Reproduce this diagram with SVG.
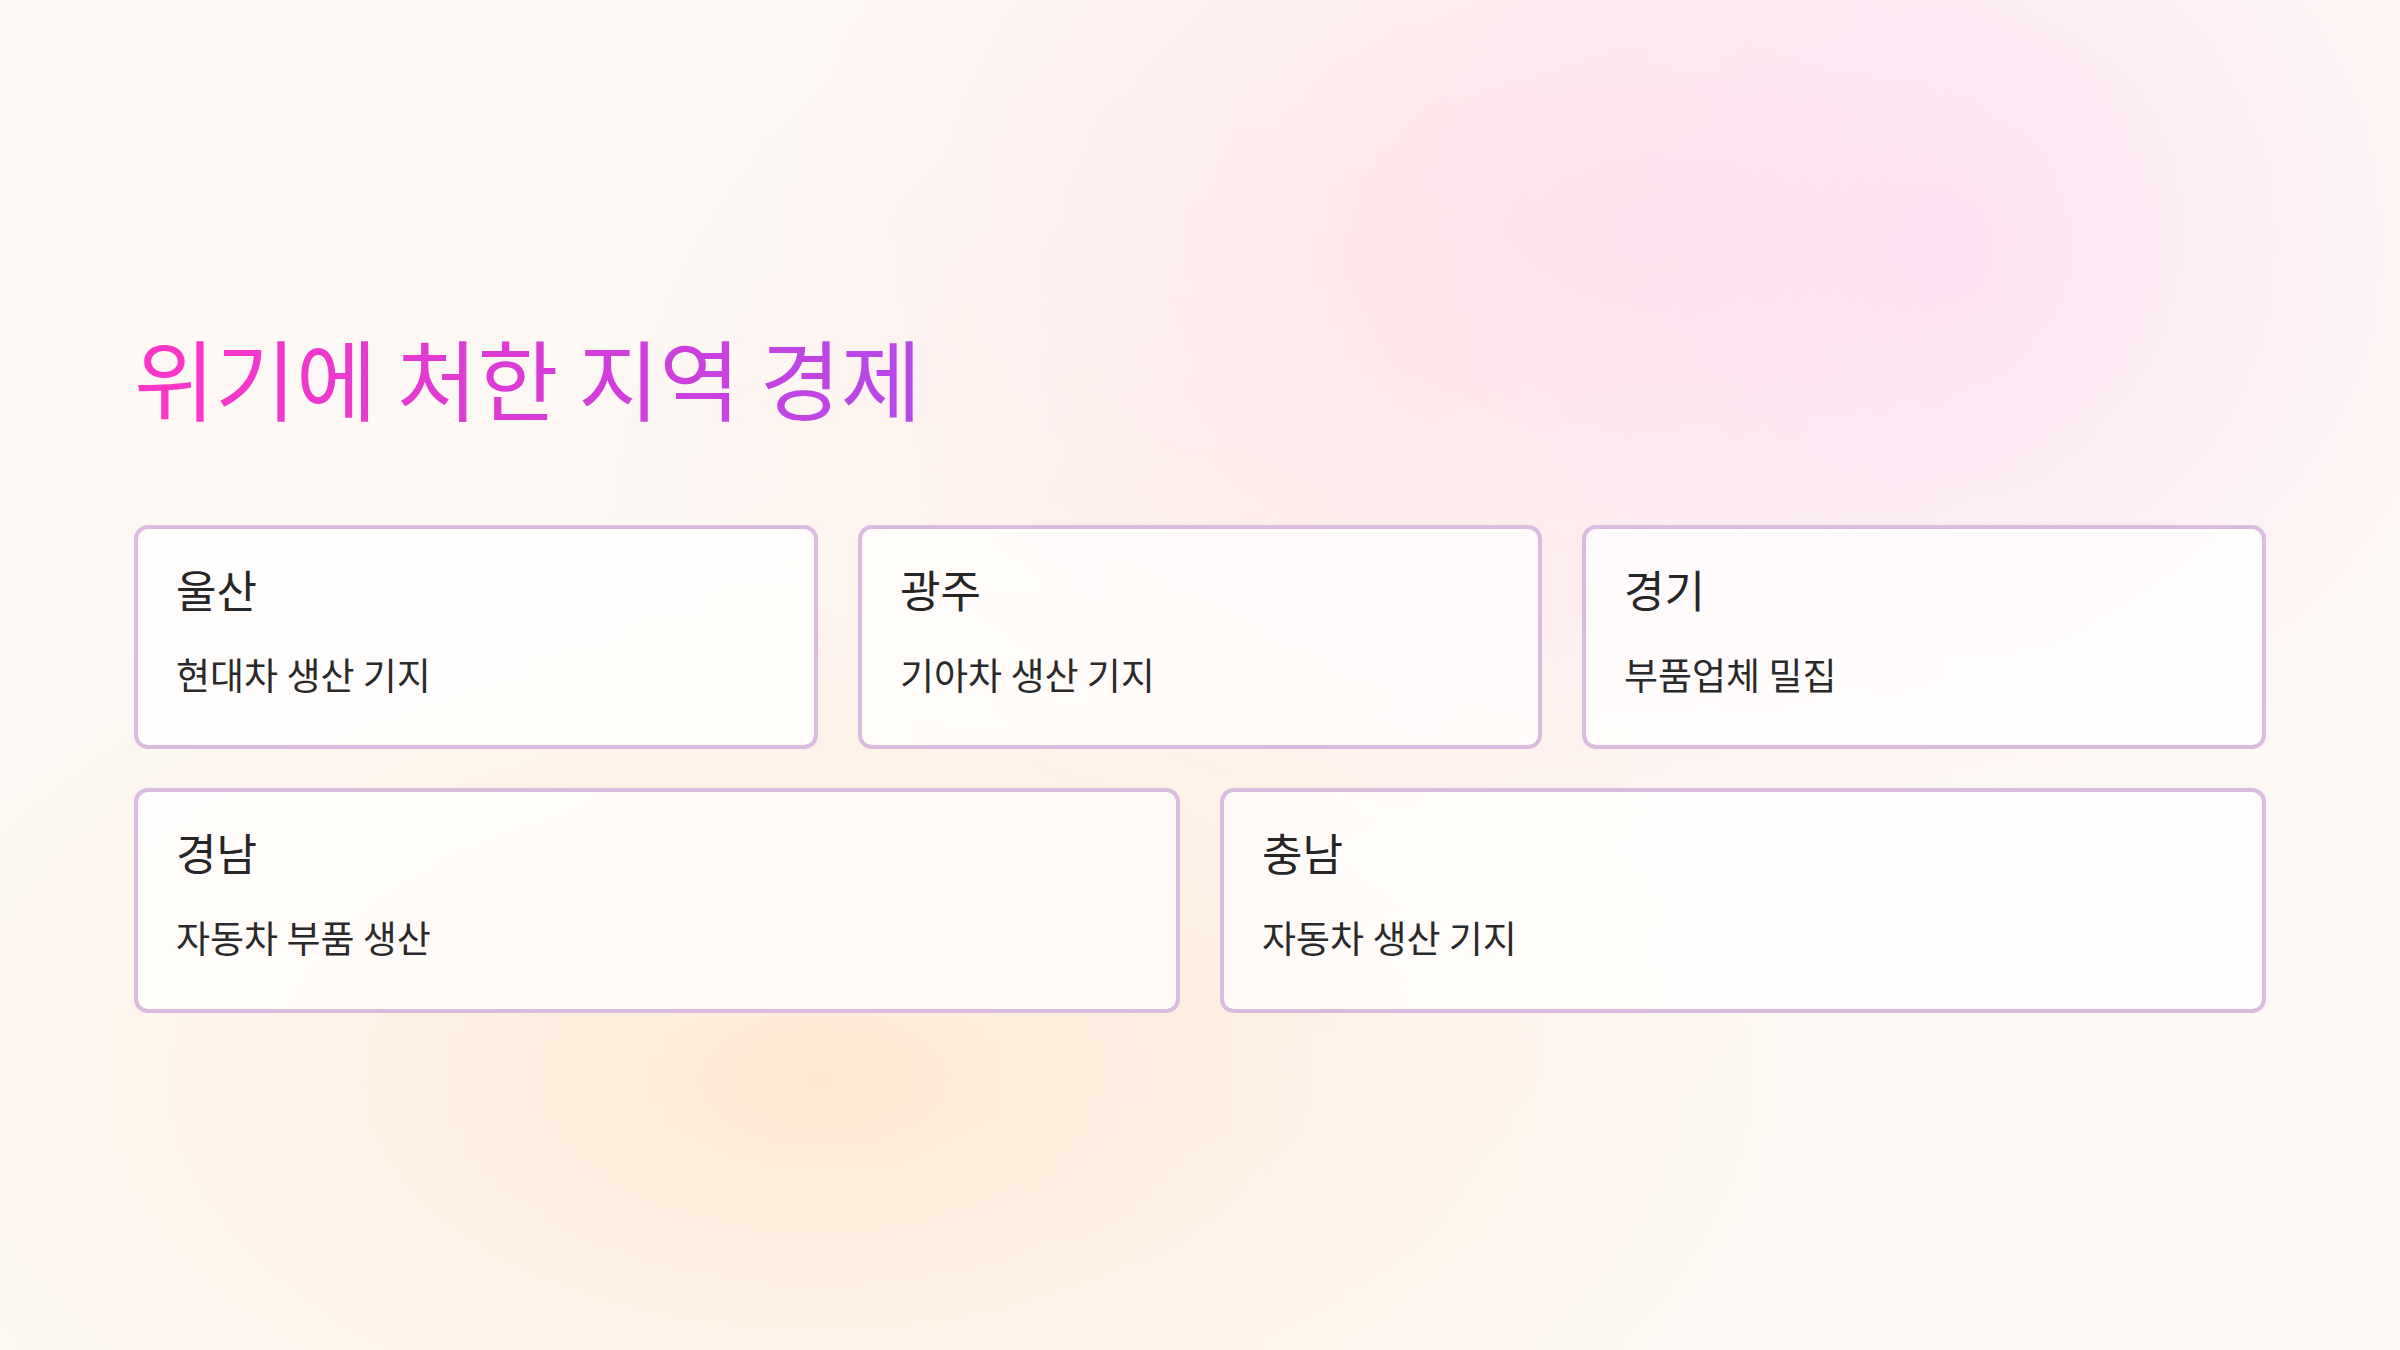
<svg xmlns="http://www.w3.org/2000/svg" width="2400" height="1350" viewBox="0 0 2400 1350">
<defs>
<radialGradient id="gPink" cx="1650" cy="230" r="900" gradientUnits="userSpaceOnUse" gradientTransform="translate(1650 230) scale(1 0.7) translate(-1650 -230)">
<stop offset="0" stop-color="#ffd9e6" stop-opacity="0.85"/>
<stop offset="0.45" stop-color="#ffe2ea" stop-opacity="0.5"/>
<stop offset="1" stop-color="#ffe8ee" stop-opacity="0"/>
</radialGradient>
<radialGradient id="gMag" cx="1950" cy="250" r="560" gradientUnits="userSpaceOnUse">
<stop offset="0" stop-color="#fbdff6" stop-opacity="0.7"/>
<stop offset="0.6" stop-color="#fce8f8" stop-opacity="0.35"/>
<stop offset="1" stop-color="#fdeefa" stop-opacity="0"/>
</radialGradient>
<radialGradient id="gPeach" cx="820" cy="1080" r="1050" gradientUnits="userSpaceOnUse" gradientTransform="translate(820 1080) scale(1 0.55) translate(-820 -1080)">
<stop offset="0" stop-color="#ffe7cf" stop-opacity="0.9"/>
<stop offset="0.5" stop-color="#ffeddc" stop-opacity="0.55"/>
<stop offset="1" stop-color="#fff2e6" stop-opacity="0"/>
</radialGradient>
<radialGradient id="gMid" cx="1250" cy="560" r="750" gradientUnits="userSpaceOnUse">
<stop offset="0" stop-color="#ffe9e0" stop-opacity="0.55"/>
<stop offset="1" stop-color="#ffeee8" stop-opacity="0"/>
</radialGradient>
<linearGradient id="gTitle" x1="136" y1="0" x2="915" y2="0" gradientUnits="userSpaceOnUse">
<stop offset="0" stop-color="#ff36c6"/>
<stop offset="0.55" stop-color="#d63cd8"/>
<stop offset="1" stop-color="#b648e8"/>
</linearGradient>
<style>
.card{fill:#ffffff;fill-opacity:0.72;stroke:#dbbbe0;stroke-width:4}
.h{font-family:"Noto Sans CJK KR","Noto Sans",sans-serif;font-size:44px;fill:#262626}
.s{font-family:"Noto Sans CJK KR","Noto Sans",sans-serif;font-size:37px;fill:#2a2a2a}
.t{font-family:"Noto Sans CJK KR","Noto Sans",sans-serif;font-size:88px;fill:url(#gTitle)}
</style>
</defs>
<rect width="2400" height="1350" fill="#fdf8f4"/>
<rect width="2400" height="1350" fill="url(#gMid)"/>
<rect width="2400" height="1350" fill="url(#gPeach)"/>
<rect width="2400" height="1350" fill="url(#gPink)"/>
<rect width="2400" height="1350" fill="url(#gMag)"/>

<text class="t" x="134" y="414">위기에 처한 지역 경제</text>

<g id="connectors"></g>

<g id="card-ulsan">
<rect class="card" x="136" y="527" width="680" height="220" rx="12"/>
<text class="h" x="176" y="608">울산</text>
<text class="s" x="176" y="690">현대차 생산 기지</text>
</g>
<g id="card-gwangju">
<rect class="card" x="860" y="527" width="680" height="220" rx="12"/>
<text class="h" x="900" y="608">광주</text>
<text class="s" x="900" y="690">기아차 생산 기지</text>
</g>
<g id="card-gyeonggi">
<rect class="card" x="1584" y="527" width="680" height="220" rx="12"/>
<text class="h" x="1624" y="608">경기</text>
<text class="s" x="1624" y="690">부품업체 밀집</text>
</g>
<g id="card-gyeongnam">
<rect class="card" x="136" y="790" width="1042" height="221" rx="12"/>
<text class="h" x="176" y="871">경남</text>
<text class="s" x="176" y="953">자동차 부품 생산</text>
</g>
<g id="card-chungnam">
<rect class="card" x="1222" y="790" width="1042" height="221" rx="12"/>
<text class="h" x="1262" y="871">충남</text>
<text class="s" x="1262" y="953">자동차 생산 기지</text>
</g>
</svg>
